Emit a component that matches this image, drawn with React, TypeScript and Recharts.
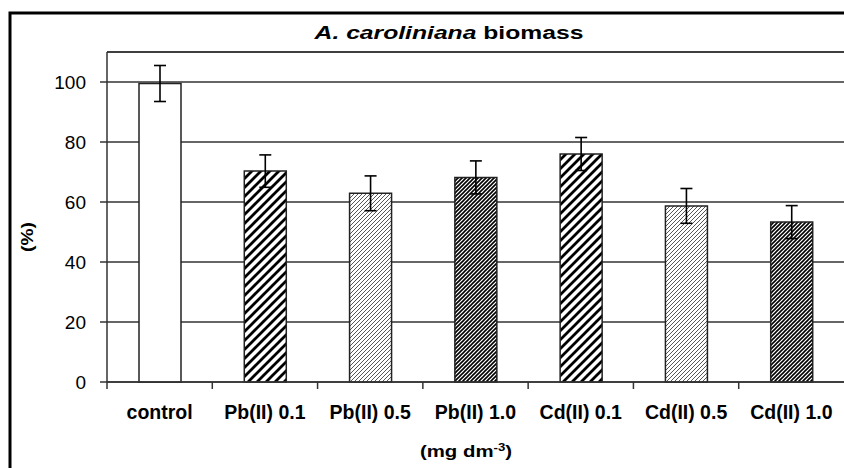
import React from 'react';
import { BarChart, Bar, XAxis, YAxis, CartesianGrid, ErrorBar, ReferenceLine, Cell } from 'recharts';

const categories = ['control', 'Pb(II) 0.1', 'Pb(II) 0.5', 'Pb(II) 1.0', 'Cd(II) 0.1', 'Cd(II) 0.5', 'Cd(II) 1.0'];
const biomass = [99.5, 70.3, 62.9, 68.2, 76.0, 58.7, 53.3];
const sd = [6.0, 5.4, 5.8, 5.5, 5.5, 5.8, 5.5];
const yTicks = [0, 20, 40, 60, 80, 100];

// hatch used by each bar, same order as categories
const FILLS = ['#fff', 'url(#wide)', 'url(#light)', 'url(#dark)', 'url(#wide)', 'url(#light)', 'url(#dark)'];

const W = 844;
const H = 468;
const PLOT_LEFT = 107;
const FONT = '"Liberation Sans", Arial, sans-serif';
const STEP = (W - PLOT_LEFT) / categories.length;

const data = categories.map((name, i) => ({ name, value: biomass[i], err: sd[i] }));

function CategoryTick(props: any) {
  const { x, y, payload } = props;
  return (
    <g>
      <line x1={x - STEP / 2} x2={x - STEP / 2} y1={y - 7} y2={y} stroke="#333" strokeWidth={1.5} />
      <text x={x} y={y + 30} textAnchor="middle" fontSize={19.5} fontWeight="bold" fontFamily={FONT} fill="#000">
        {payload.value}
      </text>
    </g>
  );
}

export default function App() {
  return (
    <div style={{ position: 'absolute', left: 0, top: 0, width: W, height: H, overflow: 'hidden', background: '#fff' }}>
      <svg width={W} height={H} style={{ position: 'absolute', left: 0, top: 0 }}>
        <rect x={10} y={13} width={900} height={600} fill="#fff" stroke="#000" strokeWidth={3} />
        <g transform="translate(449,39) scale(1.3,1)">
          <text textAnchor="middle" fontSize={19} fontWeight="bold" fontFamily={FONT} fill="#000">
            <tspan fontStyle="italic">A. caroliniana</tspan>
            {' biomass'}
          </text>
        </g>
        <g transform="translate(33,237) rotate(-90) scale(1.2,1)">
          <text textAnchor="middle" fontSize={16} fontWeight="bold" fontFamily={FONT} fill="#000">(%)</text>
        </g>
        <g transform="translate(466,457) scale(1.2,1)">
          <text textAnchor="middle" fontSize={17} fontWeight="bold" fontFamily={FONT} fill="#000">
            (mg dm<tspan dy={-6} fontSize={11}>-3</tspan><tspan dy={6}>)</tspan>
          </text>
        </g>
      </svg>
      <div style={{ position: 'absolute', left: 0, top: 0 }}>
        <BarChart width={W} height={H} data={data} margin={{ top: 52, right: 0, left: 47, bottom: 26 }}>
          <defs>
            <pattern id="wide" patternUnits="userSpaceOnUse" width={9} height={9}>
              <rect width={9} height={9} fill="#fff" />
              <path d="M-2,2 L2,-2 M0,9 L9,0 M7,11 L11,7" stroke="#000" strokeWidth={2.8} />
            </pattern>
            <pattern id="light" patternUnits="userSpaceOnUse" width={4} height={4}>
              <rect width={4} height={4} fill="#fff" />
              <path d="M-1,1 L1,-1 M0,4 L4,0 M3,5 L5,3" stroke="#444" strokeWidth={0.9} />
            </pattern>
            <pattern id="dark" patternUnits="userSpaceOnUse" width={4} height={4}>
              <rect width={4} height={4} fill="#fff" />
              <path d="M-1,1 L1,-1 M0,4 L4,0 M3,5 L5,3" stroke="#000" strokeWidth={1.6} />
            </pattern>
          </defs>
          <CartesianGrid vertical={false} stroke="#333" strokeWidth={1.4} />
          <ReferenceLine y={110} stroke="#333" strokeWidth={1.4} />
          <XAxis
            dataKey="name"
            height={60}
            tickLine={false}
            tickSize={7}
            tickMargin={0}
            interval={0}
            axisLine={{ stroke: '#333', strokeWidth: 1.5 }}
            tick={<CategoryTick />}
          />
          <YAxis
            domain={[0, 110]}
            ticks={yTicks}
            width={60}
            tickSize={7}
            tickMargin={14}
            axisLine={{ stroke: '#333', strokeWidth: 1.5 }}
            tickLine={{ stroke: '#333', strokeWidth: 1.5 }}
            tick={{ fill: '#000', fontSize: 19, fontFamily: FONT }}
          />
          <Bar dataKey="value" barSize={42} stroke="#222" strokeWidth={1.5} isAnimationActive={false}>
            {data.map((d, i) => (
              <Cell key={d.name} fill={FILLS[i]} />
            ))}
            <ErrorBar dataKey="err" width={6} stroke="#000" strokeWidth={1.6} direction="y" />
          </Bar>
        </BarChart>
      </div>
    </div>
  );
}
